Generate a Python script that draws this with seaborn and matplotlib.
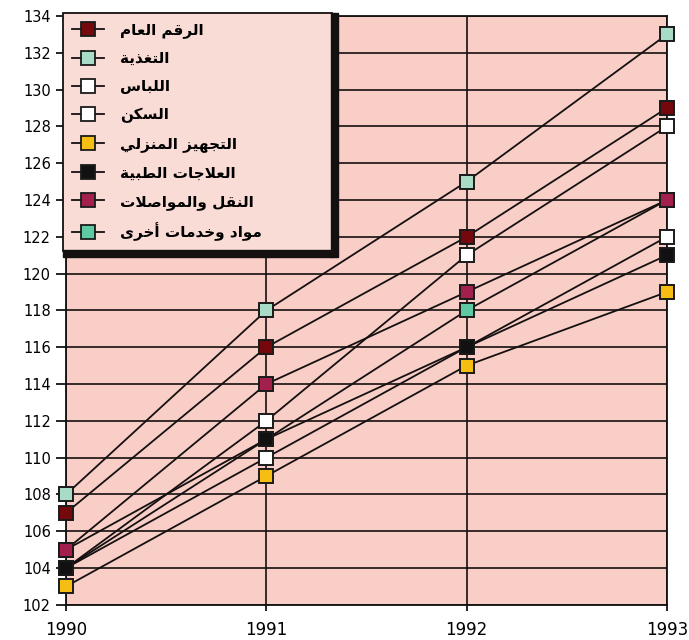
import numpy as np
import pandas as pd
import seaborn as sns
import matplotlib.pyplot as plt
from matplotlib.lines import Line2D
from matplotlib.patches import Rectangle
from matplotlib.transforms import IdentityTransform

# Cost of living index by group, 1990-1993
years = [1990, 1991, 1992, 1993]
general = [107, 116, 122, 129]
food = [108, 118, 125, 133]
clothing = [104, 112, 121, 128]
housing = [104, 110, 116, 122]
household = [103, 109, 115, 119]
medical = [104, 111, 116, 121]
transport = [105, 114, 119, 124]
other = [105, 111, 118, 124]

labels = ['الرقم العام', 'التغذية', 'اللباس', 'السكن', 'التجهيز المنزلي',
          'العلاجات الطبية', 'النقل والمواصلات', 'مواد وخدمات أخرى']
series = [general, food, clothing, housing, household, medical, transport, other]
colors = ['#74080c', '#a9dcc6', '#ffffff', '#ffffff', '#f6bd12',
          '#111111', '#a3204c', '#5ec9a2']
# draw order so that the visible squares on top match the picture
draw_order = [7, 0, 1, 2, 3, 4, 5, 6]

# ---- simple Arabic shaping (matplotlib has no complex text layout) ----
FORMS = {
    'ا': (0xFE8D, 0xFE8E), 'أ': (0xFE83, 0xFE84), 'ة': (0xFE93, 0xFE94),
    'د': (0xFEA9, 0xFEAA), 'ذ': (0xFEAB, 0xFEAC), 'ر': (0xFEAD, 0xFEAE),
    'ز': (0xFEAF, 0xFEB0), 'و': (0xFEED, 0xFEEE), 'ى': (0xFEEF, 0xFEF0),
    'لا': (0xFEFB, 0xFEFC), 'لأ': (0xFEF7, 0xFEF8),
    'ب': (0xFE8F, 0xFE90, 0xFE91, 0xFE92), 'ت': (0xFE95, 0xFE96, 0xFE97, 0xFE98),
    'ج': (0xFE9D, 0xFE9E, 0xFE9F, 0xFEA0), 'خ': (0xFEA5, 0xFEA6, 0xFEA7, 0xFEA8),
    'س': (0xFEB1, 0xFEB2, 0xFEB3, 0xFEB4), 'ص': (0xFEB9, 0xFEBA, 0xFEBB, 0xFEBC),
    'ط': (0xFEC1, 0xFEC2, 0xFEC3, 0xFEC4), 'ع': (0xFEC9, 0xFECA, 0xFECB, 0xFECC),
    'غ': (0xFECD, 0xFECE, 0xFECF, 0xFED0), 'ق': (0xFED5, 0xFED6, 0xFED7, 0xFED8),
    'ك': (0xFED9, 0xFEDA, 0xFEDB, 0xFEDC), 'ل': (0xFEDD, 0xFEDE, 0xFEDF, 0xFEE0),
    'م': (0xFEE1, 0xFEE2, 0xFEE3, 0xFEE4), 'ن': (0xFEE5, 0xFEE6, 0xFEE7, 0xFEE8),
    'ه': (0xFEE9, 0xFEEA, 0xFEEB, 0xFEEC), 'ي': (0xFEF1, 0xFEF2, 0xFEF3, 0xFEF4),
}


def shape_arabic(text):
    tokens = []
    i = 0
    while i < len(text):
        if text[i] == 'ل' and i + 1 < len(text) and text[i + 1] in 'اأ':
            tokens.append(text[i:i + 2])
            i += 2
        else:
            tokens.append(text[i])
            i += 1
    out = []
    for k, t in enumerate(tokens):
        if t not in FORMS:
            out.append(t)
            continue
        prev = tokens[k - 1] if k > 0 else None
        nxt = tokens[k + 1] if k + 1 < len(tokens) else None
        join_prev = prev in FORMS and len(FORMS[prev]) == 4
        join_next = len(FORMS[t]) == 4 and nxt in FORMS
        f = FORMS[t]
        if join_prev and join_next:
            out.append(chr(f[3]))
        elif join_prev:
            out.append(chr(f[1]))
        elif join_next:
            out.append(chr(f[2]))
        else:
            out.append(chr(f[0]))
    return ''.join(reversed(out))


plt.rcParams['font.family'] = ['DejaVu Sans']

fig, ax = plt.subplots(figsize=(6.89, 6.4), dpi=100)
fig.subplots_adjust(left=0.096, right=0.968, top=0.975, bottom=0.055)
ax.set_facecolor('#f8cec7')

for pos, idx in enumerate(draw_order):
    sns.lineplot(x=years, y=series[idx], ax=ax, color='#151010', lw=1.3,
                 marker='s', markersize=10, markerfacecolor=colors[idx],
                 markeredgecolor='#1a1a1a', markeredgewidth=1.4,
                 clip_on=False, zorder=3 + pos * 0.1)

ax.set_xlim(1990, 1993)
ax.set_ylim(102, 134)
ax.set_xticks(years)
ax.set_yticks(range(102, 135, 2))
ax.grid(True, color='#151010', lw=1.2, zorder=1)
ax.set_axisbelow(True)
for s in ax.spines.values():
    s.set_color('#151010')
    s.set_linewidth(1.3)
ax.tick_params(axis='y', length=7, width=1.2, labelsize=10.5, pad=4)
ax.tick_params(axis='x', length=4, width=1.2, labelsize=12, pad=8)
ax.set_xlabel('')
ax.set_ylabel('')

handles = [Line2D([0], [0], color='#151010', lw=1.3, marker='s', markersize=9.5,
                  markerfacecolor=c, markeredgecolor='#1a1a1a', markeredgewidth=1.3)
           for c in colors]
leg = ax.legend(handles, [shape_arabic(l) for l in labels],
                loc='upper left', bbox_to_anchor=(-0.005, 0.5, 0.448, 0.505),
                mode='expand', borderaxespad=0, frameon=True, fancybox=False,
                handlelength=2.1, handletextpad=1.0, labelspacing=0.86,
                borderpad=0.6, prop={'size': 11, 'weight': 'bold'})
frame = leg.get_frame()
frame.set_facecolor('#f9dcd6')
frame.set_edgecolor('#151010')
frame.set_linewidth(1.3)
frame.set_alpha(1)
leg.set_zorder(10)

# thick right and bottom border of the legend box
fig.canvas.draw()
bb = leg.get_window_extent()
t = 7
fig.add_artist(Rectangle((bb.x1 - 1, bb.y0 - t + 1), t, bb.height + t - 1,
                         transform=IdentityTransform(), color='#151010', zorder=11))
fig.add_artist(Rectangle((bb.x0, bb.y0 - t + 1), bb.width, t,
                         transform=IdentityTransform(), color='#151010', zorder=11))

fig.savefig('out.png', dpi=100)
